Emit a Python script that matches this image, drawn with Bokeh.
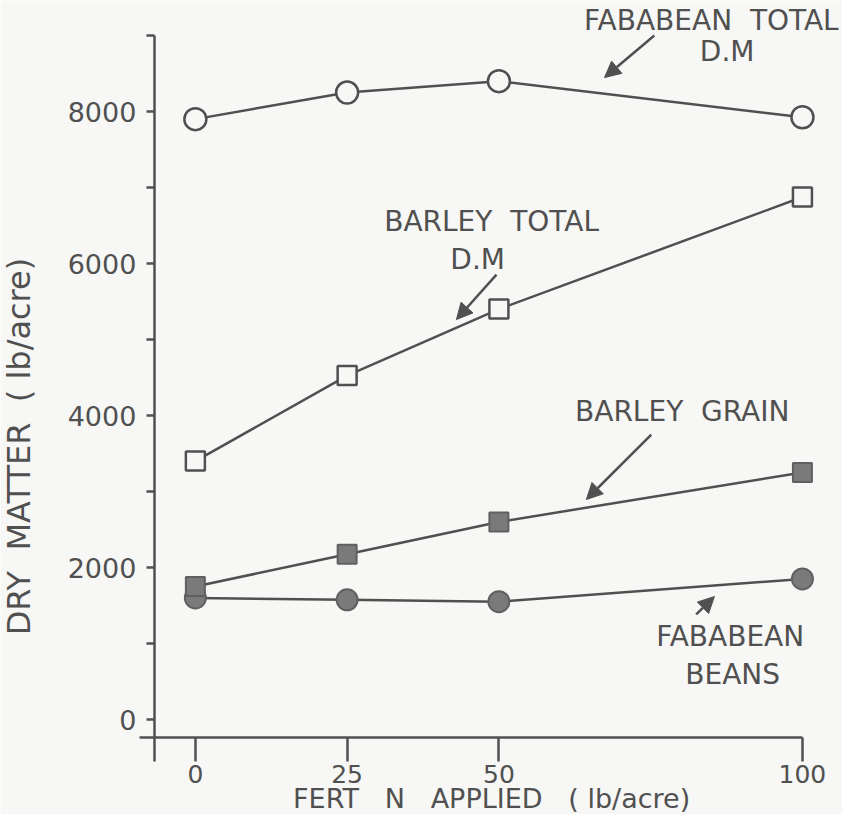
from bokeh.plotting import figure
from bokeh.models import (Range1d, FixedTicker, Label, Arrow, NormalHead)
from bokeh.embed import file_html
from bokeh.resources import INLINE
import math

# ---- data ----
fert_n = [0, 25, 50, 100]
fababean_total = [7900, 8250, 8400, 7925]
barley_total = [3400, 4525, 5400, 6875]
barley_grain = [1750, 2175, 2600, 3250]
fababean_beans = [1600, 1575, 1550, 1850]

x_ticks = [0, 25, 50, 100]
y_major = [0, 2000, 4000, 6000, 8000]
y_minor = [1000, 3000, 5000, 7000, 9000]

INK = "#505050"
BG = "#f7f7f5"
FONT = "DejaVu Sans"
NB = "\u00a0"

p = figure(width=842, height=814, output_backend="svg", toolbar_location=None,
           x_range=Range1d(-32.1, 106.6), y_range=Range1d(-1250, 9461),
           min_border_left=0, min_border_right=0, min_border_top=0,
           min_border_bottom=0)
p.background_fill_color = BG
p.border_fill_color = BG
p.outline_line_color = None
p.xgrid.visible = False
p.ygrid.visible = False

# axes
xa = p.xaxis[0]
xa.fixed_location = -237
xa.bounds = (-9.23, 100)
xa.ticker = FixedTicker(ticks=x_ticks)
xa.major_tick_out = 24
xa.major_tick_in = 0
xa.minor_tick_out = 0
xa.axis_line_color = INK
xa.axis_line_width = 2.5
xa.major_tick_line_color = INK
xa.major_tick_line_width = 2.5
xa.major_label_text_font = FONT
xa.major_label_text_font_size = "25px"
xa.major_label_text_color = INK
xa.major_label_standoff = 3

ya = p.yaxis[0]
ya.fixed_location = -6.75
ya.bounds = (-553, 9000)
ya.ticker = FixedTicker(ticks=y_major, minor_ticks=y_minor)
ya.major_tick_out = 8
ya.major_tick_in = 0
ya.minor_tick_out = 8
ya.minor_tick_in = 0
ya.axis_line_color = INK
ya.axis_line_width = 2.5
ya.major_tick_line_color = INK
ya.major_tick_line_width = 2.5
ya.minor_tick_line_color = INK
ya.minor_tick_line_width = 2.5
ya.major_label_text_font = FONT
ya.major_label_text_font_size = "27px"
ya.major_label_text_color = INK
ya.major_label_standoff = 10

# axis titles
p.add_layout(Label(x=48.8, y=-1237,
                   text="FERT" + NB * 3 + "N" + NB * 3 + "APPLIED" + NB * 3 + "(" + NB + "lb/acre)",
                   text_align="center", text_baseline="bottom", text_font=FONT,
                   text_font_size="27px", text_color=INK))
p.add_layout(Label(x=-29.0, y=3592,
                   text="DRY" + NB * 2 + "MATTER" + NB * 2 + "(" + NB + "lb/acre)",
                   angle=math.pi / 2, text_align="center", text_baseline="middle",
                   text_font=FONT, text_font_size="32px", text_color=INK))

# series
p.line(fert_n, fababean_total, line_color=INK, line_width=2.5)
p.scatter(fert_n, fababean_total, marker="circle", size=22, fill_color=BG,
          line_color=INK, line_width=2.5)

p.line(fert_n, barley_total, line_color=INK, line_width=2.5)
p.scatter(fert_n, barley_total, marker="square", size=19, fill_color=BG,
          line_color=INK, line_width=2.5)

p.line(fert_n, fababean_beans, line_color=INK, line_width=2.5)
p.scatter(fert_n, fababean_beans, marker="circle", size=21, fill_color="#7a7a7a",
          line_color="#606060", line_width=2)

p.line(fert_n, barley_grain, line_color=INK, line_width=2.5)
p.scatter(fert_n, barley_grain, marker="square", size=19, fill_color="#7a7a7a",
          line_color="#606060", line_width=2)

# annotations
def txt(x, y, s):
    p.add_layout(Label(x=x, y=y, text=s, text_align="center", text_baseline="middle",
                       text_font=FONT, text_font_size="28px", text_color=INK))

def arr(x0, y0, x1, y1):
    p.add_layout(Arrow(end=NormalHead(size=16, fill_color=INK, line_color=INK),
                       x_start=x0, y_start=y0, x_end=x1, y_end=y1,
                       line_color=INK, line_width=2.5))

txt(85.0, 9198, "FABABEAN" + NB * 2 + "TOTAL")
txt(87.6, 8790, "D.M")
arr(75.6, 9000, 67.4, 8447)

txt(48.8, 6553, "BARLEY" + NB * 2 + "TOTAL")
txt(46.5, 6053, "D.M")
arr(49.6, 5855, 43.0, 5263)

txt(80.2, 4053, "BARLEY" + NB * 2 + "GRAIN")
arr(75.1, 3750, 64.4, 2895)

txt(88.1, 1092, "FABABEAN")
txt(88.5, 592, "BEANS")
arr(82.5, 1382, 85.5, 1618)

open("out.html", "w").write(file_html(p, INLINE))
